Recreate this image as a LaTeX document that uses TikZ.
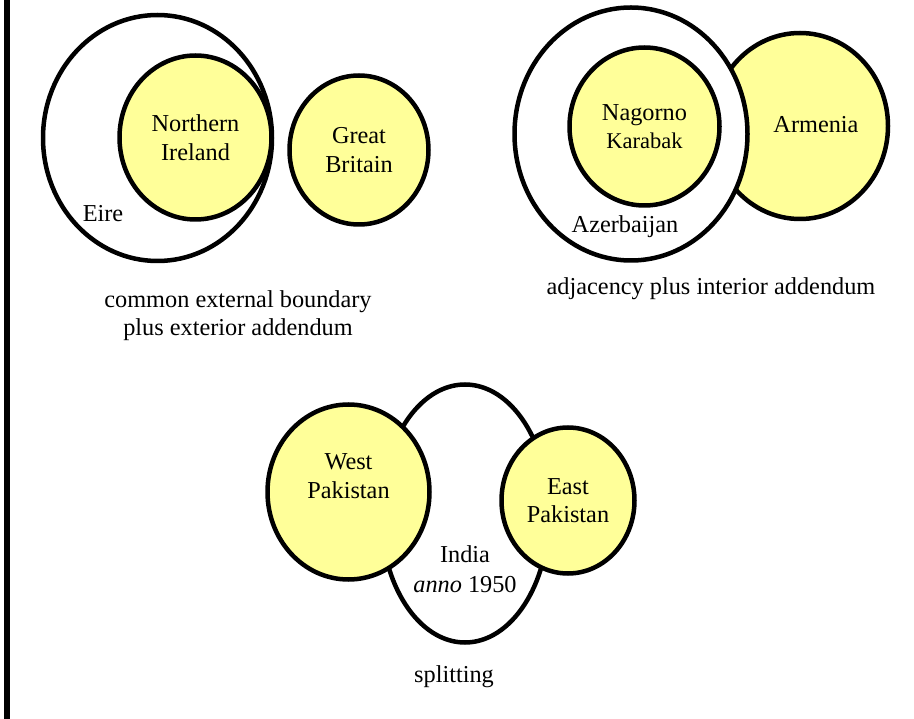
\documentclass[tikz,border=0pt]{standalone}
\usepackage{fontspec}
\setmainfont{Liberation Serif}
\usepackage{tikz}
\usetikzlibrary{shapes.geometric}
\definecolor{landyellow}{RGB}{255,255,153}

\begin{document}
\begin{tikzpicture}[x=1pt,y=-1pt,
      font=\fontsize{24.3}{29.5}\selectfont,
      region/.style={ellipse,draw,line width=4.5pt,inner sep=0pt,align=center},
      land/.style={region,fill=landyellow},
      host/.style={region,fill=white},
      lbl/.style={inner sep=0pt,align=center}]
			\useasboundingbox (0,0) rectangle (914,719);
			\fill (4,0) rectangle (10,719);
			\node[host,minimum width=229pt,minimum height=246pt] (eire) at (157.5,138) {};
			\node[land,minimum width=152pt,minimum height=164pt] (ni) at (195.5,137.5) {Northern\\Ireland};
			\node[land,minimum width=139pt,minimum height=149pt] (gb) at (359,150) {Great\\Britain};
			\node[lbl,anchor=base] (eiretxt) at (103,222) {Eire};
			\node[lbl] (cap1) at (238,316) {common external boundary\\[-1.5pt]plus exterior addendum};
			\node[land,minimum width=176pt,minimum height=186pt] (arm) at (800,126) {};
			\node[lbl,anchor=base] (armtxt) at (816,133) {Armenia};
			\node[host,minimum width=233pt,minimum height=253pt] (azer) at (631,134) {};
			\node[land,minimum width=150pt,minimum height=158pt,yshift=-3pt] (nk) at (644.5,123.5) {Nagorno\\[-1pt]{\fontsize{22.5}{27}\selectfont Karabak}};
			\node[lbl,anchor=base] (azertxt) at (625,233) {Azerbaijan};
			\node[lbl,anchor=base] (cap2) at (711,295) {adjacency plus interior addendum};
			\node[host,minimum width=168pt,minimum height=258pt] (india) at (465,513.5) {};
			\node[land,minimum width=162pt,minimum height=175pt] (wp) at (348.5,492) {};
			\node[land,minimum width=133pt,minimum height=146pt] (ep) at (568,500.5) {East\\[-1.5pt]Pakistan};
			\node[lbl] (wptxt) at (348.5,476.5) {West\\[-0.5pt]Pakistan};
			\node[lbl] (indiatxt) at (465,569.5) {India\\[0.5pt]\emph{anno} 1950};
			\node[lbl,anchor=base] (cap3) at (454,682) {splitting};
		\end{tikzpicture}
\end{document}
